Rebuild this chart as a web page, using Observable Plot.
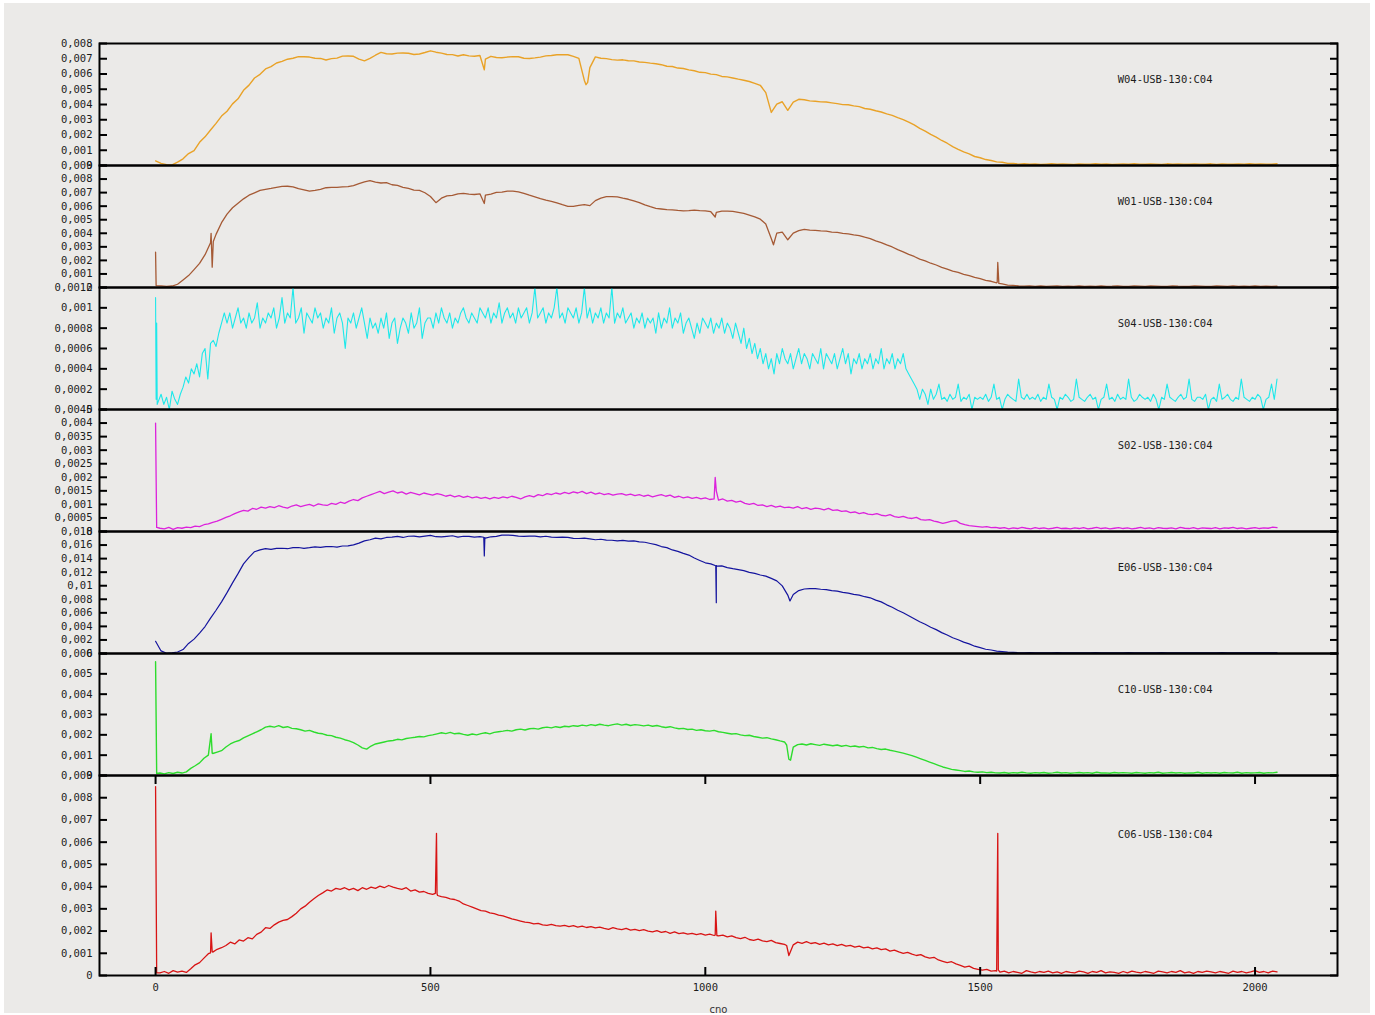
<!DOCTYPE html>
<html>
<head>
<meta charset="utf-8">
<script src="https://cdn.jsdelivr.net/npm/d3@7"></script>
<script src="https://cdn.jsdelivr.net/npm/@observablehq/plot@0.6"></script>
<style>
  html, body { margin: 0; padding: 0; background: #ffffff; }
  #page { position: relative; width: 1375px; height: 1015px; overflow: hidden; }
  #bg { position: absolute; left: 4px; top: 3px; width: 1366px; height: 1010px; background: #ebeae8; }
  #page svg { position: absolute; left: 0; overflow: visible; }
</style>
</head>
<body>
<div id="page"><div id="bg"></div></div>
<script>
// Channel responses per antenna, sampled along the channel number (cno).
// Values are in units of 1e-5. Grid series start at cno 0 with a fixed step;
// the *Spikes lists hold extra [cno, value] samples (narrow spikes and dips).

const names = ["W04-USB-130:C04", "W01-USB-130:C04", "S04-USB-130:C04", "S02-USB-130:C04",
               "E06-USB-130:C04", "C10-USB-130:C04", "C06-USB-130:C04"];
const colors = ["#e9a227", "#a55a35", "#1ee8ea", "#dc22dc", "#14149e", "#2ddc2d", "#d81414"];
const yMax = [0.008, 0.009, 0.0012, 0.0045, 0.018, 0.006, 0.009];

const ticksW04 = [0, 0.001, 0.002, 0.003, 0.004, 0.005, 0.006, 0.007, 0.008];
const ticksW01 = [0, 0.001, 0.002, 0.003, 0.004, 0.005, 0.006, 0.007, 0.008, 0.009];
const ticksS04 = [0, 0.0002, 0.0004, 0.0006, 0.0008, 0.001, 0.0012];
const ticksS02 = [0, 0.0005, 0.001, 0.0015, 0.002, 0.0025, 0.003, 0.0035, 0.004, 0.0045];
const ticksE06 = [0, 0.002, 0.004, 0.006, 0.008, 0.01, 0.012, 0.014, 0.016, 0.018];
const ticksC10 = [0, 0.001, 0.002, 0.003, 0.004, 0.005, 0.006];
const ticksC06 = [0, 0.001, 0.002, 0.003, 0.004, 0.005, 0.006, 0.007, 0.008, 0.009];
const xTicks = [0, 500, 1000, 1500, 2000];

// W04, step 10
const w04 = [
  30,14,6,4,22,44,78,98,152,188,
  233,276,324,356,404,437,493,527,574,598,
  633,648,672,683,697,703,714,713,711,703,
  702,692,701,704,717,718,716,698,686,702,
  723,742,733,731,737,738,736,728,731,741,
  752,743,737,728,727,718,726,719,716,721,
  698,716,708,707,711,714,713,703,702,706,
  711,719,721,726,727,726,716,702,558,642,
  712,703,701,694,691,693,687,686,679,676,
  671,667,661,651,649,639,636,627,621,611,
  609,599,596,584,581,574,566,559,551,539,
  526,478,348,402,418,362,416,434,431,424,
  421,417,416,411,406,399,398,391,386,374,
  369,359,351,339,329,314,301,284,266,244,
  226,204,186,164,146,124,106,89,76,59,
  51,39,33,24,21,14,13,9,11,8,
  10,7,9,11,8,10,9,7,10,8,
  9,11,8,10,7,9,10,8,11,9,
  8,10,9,7,11,8,10,9,8,10,
  9,8,11,7,10,9,8,10,9,11,
  8,10,9,8,11
];
const w04Spikes = [[598, 628], [783, 530], [786, 545]];

// W01, step 10
const w01 = [
  260,12,8,11,24,56,88,132,178,242,
  330,392,478,541,588,622,654,681,698,716,
  724,731,739,746,747,743,729,721,711,716,
  724,736,739,738,743,744,752,766,779,789,
  777,771,773,758,753,739,731,719,716,699,
  671,626,659,676,679,691,694,689,686,691,
  681,689,701,704,711,711,706,694,681,669,
  656,644,636,624,611,599,598,606,611,604,
  641,659,671,671,669,659,651,639,626,609,
  596,584,579,574,573,569,566,567,571,567,
  566,559,554,563,564,561,554,546,534,521,
  504,469,362,401,409,352,401,419,429,424,
  421,417,416,409,406,399,396,389,383,371,
  361,344,331,314,299,279,263,244,229,209,
  196,179,166,149,136,121,111,97,87,74,
  65,53,46,35,26,17,15,11,10,12,
  9,11,8,10,12,9,10,8,11,9,
  10,8,11,9,10,12,8,9,11,10,
  9,11,10,8,9,12,10,9,8,11,
  10,9,8,11,10,9,12,8,10,9,
  11,9,10,8,10
];
const w01Spikes = [[1, 14], [101, 400], [103, 150], [105, 340], [598, 620], [1018, 520],
                   [1124, 315], [1531, 38], [1532, 185], [1534, 30]];

// S04, step 5
const s04 = [
  110,8,15,5,12,0,18,10,5,15,22,32,26,40,35,45,32,55,60,30,
  65,68,62,75,85,95,85,95,80,90,100,85,90,80,95,85,90,105,80,90,
  85,95,90,100,80,90,110,85,95,90,120,85,90,100,75,95,90,85,100,90,
  95,80,90,85,100,75,90,95,85,60,90,85,95,80,90,100,85,70,90,80,
  85,75,90,80,95,70,85,90,65,80,90,85,75,95,80,85,100,70,85,90,
  90,80,95,85,100,90,85,95,80,90,85,95,100,90,85,95,90,85,100,95,
  90,100,85,95,90,105,85,95,100,90,95,85,100,90,95,100,85,95,120,90,
  95,100,85,95,90,100,120,90,95,85,100,95,90,100,85,95,120,90,100,85,
  95,90,100,85,95,90,120,85,95,90,100,85,90,95,80,90,85,95,80,90,
  85,90,75,95,80,90,85,100,80,90,85,95,75,85,90,80,70,85,75,90,
  85,80,90,75,85,80,90,75,85,80,70,85,75,65,80,60,70,55,65,50,
  60,45,55,40,50,35,55,45,60,50,45,55,40,50,60,45,55,50,40,55,
  50,45,60,40,55,50,45,55,40,50,60,45,55,35,50,45,55,40,50,45,
  55,40,50,45,60,40,50,45,55,40,50,45,55,40,35,30,25,20,10,20,
  15,5,20,10,15,25,10,12,8,15,10,12,25,8,12,10,15,0,12,10,
  12,10,15,8,12,25,10,12,0,10,15,12,10,8,30,12,10,15,10,12,
  10,15,8,12,10,25,12,10,0,12,10,15,12,8,10,30,12,10,8,12,
  15,10,12,0,10,12,25,10,12,8,15,10,12,10,30,12,8,10,15,12,
  10,12,8,15,10,0,12,10,25,12,10,8,12,15,10,12,30,10,8,12,
  12,10,15,0,10,12,8,25,10,12,15,10,8,12,10,30,12,10,8,12,
  10,15,12,0,10,12,25,10,30
];
const s04Spikes = [[1, 10], [2, 85], [3, 5]];

// S02, step 8
const s02 = [
  400,12,10,15,8,14,12,16,14,20,18,25,28,34,38,45,
  52,58,66,72,78,75,85,82,90,86,92,88,95,90,86,94,
  98,92,96,100,94,102,98,96,104,100,108,104,112,118,114,124,
  130,136,142,148,140,145,150,142,146,138,144,140,135,142,138,134,
  140,136,130,134,128,132,126,130,124,128,122,126,120,126,122,128,
  124,130,126,120,128,132,128,136,132,140,136,142,138,144,140,146,
  142,148,140,145,138,142,136,140,134,138,140,134,138,132,136,130,
  134,128,132,136,130,134,126,130,124,128,122,126,120,124,118,120,
  116,120,112,115,108,112,104,100,104,96,98,92,96,90,94,88,
  90,86,92,84,88,82,86,84,80,85,78,80,74,76,70,72,
  66,70,64,62,66,60,58,62,55,52,56,50,48,52,44,42,
  44,38,35,30,34,38,40,30,25,22,20,18,16,18,14,15,
  12,14,10,13,11,15,12,10,14,11,13,10,12,15,11,12,
  10,13,11,14,10,12,15,11,13,10,12,14,11,13,10,12,
  15,11,13,10,14,12,11,13,10,15,12,11,14,10,13,12,
  11,14,10,13,12,15,11,13,10,12,14,11,13,12,16,14
];
const s02Spikes = [[1, 200], [2, 15], [1018, 200], [1020, 150]];

// E06, step 10
const e06 = [
  180,38,4,9,22,58,148,212,302,398,
  522,638,762,898,1042,1178,1322,1418,1502,1528,
  1548,1536,1552,1553,1546,1562,1564,1552,1561,1572,
  1566,1577,1579,1570,1586,1588,1602,1628,1662,1678,
  1702,1692,1712,1718,1727,1712,1730,1733,1720,1731,
  1742,1723,1720,1728,1737,1718,1730,1727,1716,1723,
  1702,1722,1728,1746,1748,1744,1733,1729,1733,1731,
  1720,1730,1716,1712,1718,1713,1698,1697,1703,1692,
  1678,1686,1673,1671,1663,1669,1658,1663,1648,1641,
  1623,1606,1578,1562,1528,1507,1478,1452,1408,1372,
  1338,1322,1298,1292,1268,1252,1238,1222,1198,1182,
  1158,1142,1108,1072,998,862,872,928,952,958,
  956,948,942,928,921,903,892,873,862,838,
  822,788,762,718,682,638,602,558,512,468,
  432,388,352,308,272,233,202,168,142,108,
  86,63,52,36,29,19,16,11,10,12,
  9,11,8,10,12,9,10,8,11,9,
  10,12,9,8,11,10,9,12,8,10,
  11,9,10,12,8,10,11,9,10,8,
  10,11,9,8,12,10,9,11,10,8,
  9,11,10,8,10
];
const e06Spikes = [[597, 1715], [598, 1440], [599, 1710], [1019, 1295], [1020, 750],
                   [1021, 1290], [1154, 775]];

// C10, step 8
const c10 = [
  560,12,8,14,10,16,12,18,35,48,62,85,100,108,115,122,
  140,155,165,172,185,195,205,215,225,238,242,238,245,236,240,232,
  230,225,218,222,214,208,205,198,196,188,184,176,170,162,150,136,
  130,145,155,160,165,170,172,178,175,182,185,188,192,190,196,200,
  205,210,206,212,205,208,202,198,204,200,206,210,205,212,215,218,
  222,218,225,228,224,230,232,228,235,238,234,240,236,242,240,245,
  242,248,244,250,246,252,248,245,250,254,248,252,246,250,248,244,
  248,242,246,240,236,240,234,230,232,226,228,222,225,220,218,222,
  215,212,208,204,206,200,196,198,192,188,184,186,180,176,170,165,
  80,140,152,155,150,156,152,148,154,150,146,150,144,148,142,145,
  140,143,136,138,132,128,130,124,120,115,110,104,98,90,82,74,
  66,58,50,42,36,30,27,24,20,22,18,16,18,14,16,13,
  12,15,11,14,12,16,13,11,14,12,15,11,13,16,12,14,
  11,13,15,12,14,11,16,12,13,11,15,12,14,13,11,15,
  13,11,14,12,16,11,13,15,12,14,11,13,12,16,11,14,
  12,14,11,15,13,12,16,11,14,12,13,15,11,14,13,16
];
const c10Spikes = [[1, 285], [2, 10], [101, 205], [103, 110], [1148, 150], [1155, 75]];

// C06, step 8
const c06 = [
  850,12,18,10,22,15,20,14,30,48,58,78,98,105,118,125,
  135,150,142,160,155,170,165,185,195,215,212,228,240,248,252,265,
  280,300,312,330,345,360,372,385,380,392,388,395,385,392,382,395,
  388,398,392,402,395,405,398,392,388,395,380,385,375,378,370,365,
  368,355,352,345,342,335,322,315,308,300,292,290,282,278,272,268,
  262,255,250,245,240,238,232,235,228,226,230,224,222,226,220,224,
  218,222,216,220,214,218,212,208,215,210,206,212,204,208,202,206,
  200,196,202,194,198,190,196,188,192,186,190,184,188,182,186,180,
  178,182,174,178,170,166,172,162,158,164,156,152,158,148,144,140,
  90,138,150,145,152,144,148,140,146,138,142,134,140,132,136,128,
  132,124,128,120,124,116,120,110,114,106,100,104,96,90,94,84,
  78,82,70,64,58,62,52,46,38,42,32,28,24,28,20,22,
  15,20,12,18,14,10,22,16,12,18,14,20,12,16,10,18,
  14,12,20,16,10,18,14,22,12,16,14,10,18,12,20,15,
  12,18,14,10,20,16,12,18,14,22,12,16,10,18,14,20,
  16,12,18,14,10,20,14,18,12,16,22,14,18,12,20,16
];
const c06Spikes = [[1, 420], [2, 12], [100, 102], [101, 192], [103, 108], [509, 370],
                   [511, 640], [513, 360], [1018, 182], [1019, 290], [1021, 180],
                   [1148, 135], [1530, 20], [1531, 330], [1532, 640], [1533, 25]];

// ---- assembly -------------------------------------------------------------
function series(values, step, spikes) {
  const pts = spikes.map(([cno, v]) => ({cno, v: v * 1e-5}));
  values.forEach((v, i) => pts.push({cno: i * step, v: v * 1e-5}));
  return pts.sort((a, b) => a.cno - b.cno);
}

const panels = [
  {data: series(w04, 10, w04Spikes), ticks: ticksW04, width: 1.4},
  {data: series(w01, 10, w01Spikes), ticks: ticksW01, width: 1.3},
  {data: series(s04, 5, s04Spikes), ticks: ticksS04, width: 1.1},
  {data: series(s02, 8, s02Spikes), ticks: ticksS02, width: 1.3},
  {data: series(e06, 10, e06Spikes), ticks: ticksE06, width: 1.2},
  {data: series(c10, 8, c10Spikes), ticks: ticksC10, width: 1.4},
  {data: series(c06, 8, c06Spikes), ticks: ticksC06, width: 1.3}
];

const W = 1375, LEFT = 99, RIGHT = 38;
const xDomain = [-102, 2150];
const frameTop = [43, 165, 287, 409, 531, 653, 775];
const frameH = [122, 122, 122, 122, 122, 122, 200];
const MONO = "'DejaVu Sans Mono', 'Liberation Mono', monospace";
const FS = 10.5;
const fmt = (v) => (v === 0 ? "0" : String(v).replace(".", ","));

const page = document.getElementById("page");

panels.forEach((p, i) => {
  const h = frameH[i];
  const last = i === panels.length - 1;
  const mt = 10, mb = last ? 45 : 10;

  const marks = [
    Plot.line(p.data, {x: "cno", y: "v", stroke: colors[i], strokeWidth: p.width}),
    // inward ticks on both borders
    Plot.axisY({anchor: "left", ticks: p.ticks, tickSize: 8, dx: 8, fill: "none",
                stroke: "#000", strokeWidth: 2, label: null}),
    Plot.axisY({anchor: "right", ticks: p.ticks, tickSize: 8, dx: -8, fill: "none",
                stroke: "#000", strokeWidth: 2, label: null}),
    // tick labels
    Plot.axisY({anchor: "left", ticks: p.ticks, tickSize: 0, tickPadding: 7,
                tickFormat: fmt, label: null, fill: "#1c1c1c", fontSize: FS}),
    // series key
    Plot.text([names[i]], {frameAnchor: "top-right", dx: -125, dy: Math.round(0.295 * h),
                           textAnchor: "end", lineAnchor: "middle", fill: "#1c1c1c", fontSize: FS})
  ];

  if (last) {
    marks.push(
      Plot.axisX({anchor: "bottom", ticks: xTicks, tickSize: 8, dy: -8, fill: "none",
                  stroke: "#000", strokeWidth: 2, label: null}),
      Plot.axisX({anchor: "top", ticks: xTicks, tickSize: 8, dy: 8, fill: "none",
                  stroke: "#000", strokeWidth: 2, label: null}),
      Plot.axisX({anchor: "bottom", ticks: xTicks, tickSize: 0, tickPadding: 8,
                  tickFormat: (d) => String(d), label: null, fill: "#1c1c1c", fontSize: FS}),
      Plot.text(["cno"], {frameAnchor: "bottom", dy: 34, lineAnchor: "middle", fill: "#333",
                          fontFamily: "'DejaVu Sans', sans-serif", fontSize: 10})
    );
  }

  marks.push(Plot.frame({stroke: "#000", strokeWidth: 2}));

  const svg = Plot.plot({
    width: W,
    height: h + mt + mb,
    marginLeft: LEFT,
    marginRight: RIGHT,
    marginTop: mt,
    marginBottom: mb,
    style: {background: "transparent", overflow: "visible", fontFamily: MONO, fontSize: FS + "px"},
    x: {domain: xDomain, axis: null},
    y: {domain: [0, yMax[i]], axis: null},
    marks
  });
  svg.style.top = (frameTop[i] - mt) + "px";
  page.appendChild(svg);
});
</script>
</body>
</html>
